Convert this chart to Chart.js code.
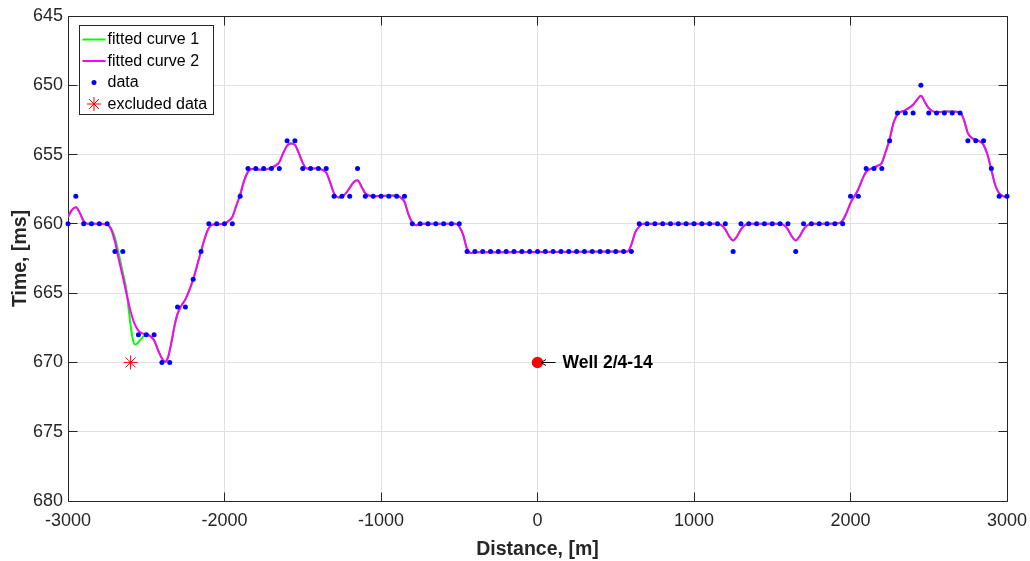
<!DOCTYPE html>
<html>
<head>
<meta charset="utf-8">
<title>Time vs Distance</title>
<script src="https://cdn.jsdelivr.net/npm/chart.js@4.4.1/dist/chart.umd.min.js"></script>
<style>
  html, body { margin: 0; padding: 0; background: #ffffff; }
  canvas { display: block; }
</style>
</head>
<body>
<canvas id="chart" width="1030" height="561"></canvas>
<script>
// Picked horizon times along the line, one per 50 m station
const distances = [
  -3000, -2950, -2900, -2850, -2800, -2750, -2700, -2650, -2600, -2550,
  -2500, -2450, -2400, -2350, -2300, -2250, -2200, -2150, -2100, -2050,
  -2000, -1950, -1900, -1850, -1800, -1750, -1700, -1650, -1600, -1550,
  -1500, -1450, -1400, -1350, -1300, -1250, -1200, -1150, -1100, -1050,
  -1000,  -950,  -900,  -850,  -800,  -750,  -700,  -650,  -600,  -550,
   -500,  -450,  -400,  -350,  -300,  -250,  -200,  -150,  -100,   -50,
      0,    50,   100,   150,   200,   250,   300,   350,   400,   450,
    500,   550,   600,   650,   700,   750,   800,   850,   900,   950,
   1000,  1050,  1100,  1150,  1200,  1250,  1300,  1350,  1400,  1450,
   1500,  1550,  1600,  1650,  1700,  1750,  1800,  1850,  1900,  1950,
   2000,  2050,  2100,  2150,  2200,  2250,  2300,  2350,  2400,  2450,
   2500,  2550,  2600,  2650,  2700,  2750,  2800,  2850,  2900,  2950,
   3000
];
// null = station removed from the fit (see excluded arrays)
const times = [
  660, 658, 660, 660, 660, 660, 662, 662, null, 668,
  668, 668, 670, 670, 666, 666, 664, 662, 660, 660,
  660, 660, 658, 656, 656, 656, 656, 656, 654, 654,
  656, 656, 656, 656, 658, 658, 658, 656, 658, 658,
  658, 658, 658, 658, 660, 660, 660, 660, 660, 660,
  660, 662, 662, 662, 662, 662, 662, 662, 662, 662,
  662, 662, 662, 662, 662, 662, 662, 662, 662, 662,
  662, 662, 662, 660, 660, 660, 660, 660, 660, 660,
  660, 660, 660, 660, 660, 662, 660, 660, 660, 660,
  660, 660, 660, 662, 660, 660, 660, 660, 660, 660,
  658, 658, 656, 656, 656, 654, 652, 652, 652, 650,
  652, 652, 652, 652, 652, 654, 654, 654, 656, 658,
  658
];

const excludedDistances = [-2600];
const excludedTimes = [670];

// Fitted curve 2 as [distance, time] nodes
const fit2Points = [
  [-3000, 659.5], [-2975, 659.0], [-2950, 658.8], [-2925, 659.2], [-2900, 659.8],
  [-2875, 660.0], [-2800, 660.0], [-2750, 660.05], [-2725, 660.4], [-2700, 661.3],
  [-2675, 662.6], [-2650, 663.8], [-2625, 665.1], [-2600, 666.3], [-2575, 667.2],
  [-2550, 667.7], [-2525, 667.9], [-2500, 667.95], [-2475, 668.1], [-2450, 668.4],
  [-2425, 669.1], [-2400, 669.7], [-2380, 669.95], [-2360, 669.6], [-2340, 668.6],
  [-2320, 667.4], [-2300, 666.5], [-2275, 665.9], [-2250, 665.45], [-2225, 664.8],
  [-2200, 664.0], [-2175, 663.0], [-2150, 662.0], [-2125, 661.0], [-2100, 660.3],
  [-2075, 660.05], [-2000, 660.0], [-1975, 659.8], [-1950, 659.5], [-1925, 658.7],
  [-1900, 657.9], [-1875, 656.9], [-1850, 656.25], [-1825, 656.05], [-1750, 656.1],
  [-1700, 655.95], [-1675, 655.8], [-1650, 655.55], [-1625, 654.9], [-1600, 654.35],
  [-1575, 654.2], [-1550, 654.3], [-1525, 654.9], [-1500, 655.6], [-1475, 656.0],
  [-1400, 656.0], [-1375, 656.1], [-1350, 656.3], [-1325, 657.0], [-1300, 657.8],
  [-1265, 658.1], [-1225, 657.8], [-1200, 657.4], [-1175, 657.0], [-1150, 656.85],
  [-1125, 657.3], [-1100, 657.8], [-1050, 658.0], [-900, 657.95], [-875, 658.1],
  [-850, 658.4], [-825, 659.3], [-800, 659.9], [-775, 660.1], [-750, 660.0],
  [-525, 660.0], [-500, 660.2], [-475, 660.8], [-450, 661.8], [-425, 662.1],
  [-400, 662.05], [575, 662.0], [600, 661.5], [625, 660.6], [650, 660.2],
  [675, 660.0], [1150, 660.0], [1175, 660.1], [1200, 660.4], [1225, 660.9],
  [1250, 661.2], [1275, 660.9], [1300, 660.4], [1325, 660.1], [1350, 660.0],
  [1550, 660.0], [1575, 660.1], [1600, 660.4], [1625, 660.9], [1650, 661.2],
  [1675, 660.9], [1700, 660.4], [1725, 660.1], [1750, 660.0], [1925, 659.95],
  [1950, 659.75], [1975, 659.2], [2000, 658.5], [2025, 658.0], [2050, 657.5],
  [2075, 656.8], [2100, 656.25], [2125, 656.05], [2150, 655.95], [2175, 655.8],
  [2200, 655.6], [2225, 654.8], [2250, 653.9], [2275, 652.7], [2300, 652.1],
  [2350, 651.8], [2400, 651.4], [2425, 651.05], [2450, 650.75], [2475, 651.2],
  [2500, 651.65], [2550, 651.95], [2600, 651.9], [2650, 651.9], [2700, 651.95],
  [2725, 652.5], [2750, 653.45], [2775, 653.8], [2800, 653.9], [2825, 654.05],
  [2850, 654.3], [2875, 655.0], [2900, 656.1], [2925, 657.2], [2950, 657.8],
  [2975, 658.0], [3000, 658.1]
];

// Fitted curve 1 differs from curve 2 only where the excluded pick sits
const fit1Segment = [
  [-2750, 660.05], [-2725, 660.3], [-2700, 661.0], [-2675, 662.2], [-2650, 663.5],
  [-2625, 664.9], [-2612, 666.2], [-2600, 667.3], [-2590, 668.1], [-2575, 668.7],
  [-2560, 668.65], [-2540, 668.4], [-2520, 668.15], [-2500, 668.0], [-2475, 668.1],
  [-2450, 668.4]
];

const wellDistance = [0];
const wellTime = [670];
const wellName = 'Well 2/4-14';

const xTickValues = [-3000, -2000, -1000, 0, 1000, 2000, 3000];
const yTickValues = [645, 650, 655, 660, 665, 670, 675, 680];

const toXY = p => ({ x: p[0], y: p[1] });
const segStart = fit1Segment[0][0];
const segEnd = fit1Segment[fit1Segment.length - 1][0];
const fit1Points = fit2Points.filter(p => p[0] < segStart)
  .concat(fit1Segment)
  .concat(fit2Points.filter(p => p[0] > segEnd));

const pickData = distances
  .map((d, i) => ({ x: d, y: times[i] }))
  .filter(p => p.y !== null);

const FONT = "'Liberation Sans', Arial, Helvetica, sans-serif";
const AXIS_COLOR = '#262626';

// Axes box with inward tick marks on all four sides
const axesFrame = {
  id: 'axesFrame',
  beforeDatasetsDraw(chart) {
    const { ctx, chartArea: a, scales } = chart;
    const al = v => Math.round(v - 0.5) + 0.5;
    const L = al(a.left), R = al(a.right), T = al(a.top), B = al(a.bottom);
    const tl = 9;
    ctx.save();
    ctx.strokeStyle = AXIS_COLOR;
    ctx.lineWidth = 1;
    ctx.beginPath();
    ctx.rect(L, T, R - L, B - T);
    xTickValues.forEach(v => {
      const px = al(scales.x.getPixelForValue(v));
      ctx.moveTo(px, B); ctx.lineTo(px, B - tl);
      ctx.moveTo(px, T); ctx.lineTo(px, T + tl);
    });
    yTickValues.forEach(v => {
      const py = al(scales.y.getPixelForValue(v));
      ctx.moveTo(L, py); ctx.lineTo(L + tl, py);
      ctx.moveTo(R, py); ctx.lineTo(R - tl, py);
    });
    ctx.stroke();
    ctx.restore();
  }
};

function drawAsterisk(ctx, x, y, r) {
  ctx.beginPath();
  for (let k = 0; k < 4; k++) {
    const ang = k * Math.PI / 4;
    const dx = Math.cos(ang) * r, dy = Math.sin(ang) * r;
    ctx.moveTo(x - dx, y - dy);
    ctx.lineTo(x + dx, y + dy);
  }
  ctx.stroke();
}

// Legend box in the upper-left corner of the axes
const insideLegend = {
  id: 'insideLegend',
  afterDraw(chart) {
    const { ctx, chartArea: a } = chart;
    const entries = chart.data.datasets
      .filter(d => d.legendKind)
      .sort((p, q) => p.legendRank - q.legendRank);
    const bx = Math.round(a.left + 11) + 0.5;
    const by = Math.round(a.top + 9) + 0.5;
    const bw = 134, bh = 89;
    ctx.save();
    ctx.fillStyle = '#ffffff';
    ctx.fillRect(bx, by, bw, bh);
    ctx.strokeStyle = AXIS_COLOR;
    ctx.lineWidth = 1;
    ctx.strokeRect(bx, by, bw, bh);
    ctx.font = '16px ' + FONT;
    ctx.textBaseline = 'middle';
    ctx.textAlign = 'left';
    entries.forEach((d, i) => {
      const cy = by + 14 + i * 21.5;
      const sx0 = bx + 3, sx1 = bx + 26, cx = bx + 14.5;
      if (d.legendKind === 'line') {
        ctx.strokeStyle = d.borderColor;
        ctx.lineWidth = d.borderWidth;
        ctx.beginPath();
        ctx.moveTo(sx0, cy); ctx.lineTo(sx1, cy);
        ctx.stroke();
      } else if (d.legendKind === 'dot') {
        ctx.fillStyle = d.backgroundColor;
        ctx.beginPath();
        ctx.arc(cx, cy, d.pointRadius, 0, Math.PI * 2);
        ctx.fill();
      } else if (d.legendKind === 'star') {
        ctx.strokeStyle = d.borderColor;
        ctx.lineWidth = 1;
        drawAsterisk(ctx, cx, cy, d.pointRadius);
      }
      ctx.fillStyle = '#000000';
      ctx.fillText(d.label, bx + 28, cy + 0.5);
    });
    ctx.restore();
  }
};

// Arrow and name next to the well marker
const wellLabel = {
  id: 'wellLabel',
  afterDatasetsDraw(chart) {
    const { ctx, scales } = chart;
    ctx.save();
    wellDistance.forEach((d, i) => {
      const px = scales.x.getPixelForValue(d);
      const py = Math.round(scales.y.getPixelForValue(wellTime[i])) + 0.5;
      const tip = px + 3.5;
      ctx.strokeStyle = '#000000';
      ctx.lineWidth = 1;
      ctx.beginPath();
      ctx.moveTo(px + 18, py); ctx.lineTo(tip, py);
      ctx.moveTo(tip + 5, py - 3); ctx.lineTo(tip, py); ctx.lineTo(tip + 5, py + 3);
      ctx.stroke();
      ctx.fillStyle = '#000000';
      ctx.font = 'bold 17.5px ' + FONT;
      ctx.textAlign = 'left';
      ctx.textBaseline = 'middle';
      ctx.fillText(wellName, px + 25, py + 0.5);
    });
    ctx.restore();
  }
};

new Chart(document.getElementById('chart'), {
  type: 'scatter',
  data: {
    datasets: [
      {
        label: 'excluded data',
        legendKind: 'star',
        legendRank: 4,
        data: excludedDistances.map((d, i) => ({ x: d, y: excludedTimes[i] })),
        pointStyle: 'star',
        pointRadius: 7,
        borderColor: '#ff0000',
        backgroundColor: '#ff0000',
        borderWidth: 1,
        showLine: false,
        order: 0,
        clip: false
      },
      {
        label: 'data',
        legendKind: 'dot',
        legendRank: 3,
        data: pickData,
        pointStyle: 'circle',
        pointRadius: 2.5,
        borderWidth: 0,
        backgroundColor: '#0000ff',
        borderColor: '#0000ff',
        showLine: false,
        order: 1,
        clip: false
      },
      {
        label: 'well',
        data: wellDistance.map((d, i) => ({ x: d, y: wellTime[i] })),
        pointStyle: 'circle',
        pointRadius: 5.7,
        borderWidth: 0,
        backgroundColor: '#ff0000',
        showLine: false,
        order: 2
      },
      {
        label: 'fitted curve 2',
        legendKind: 'line',
        legendRank: 2,
        data: fit2Points.map(toXY),
        showLine: true,
        borderColor: '#ff00ff',
        borderWidth: 2,
        pointRadius: 0,
        cubicInterpolationMode: 'monotone',
        order: 3
      },
      {
        label: 'fitted curve 1',
        legendKind: 'line',
        legendRank: 1,
        data: fit1Points.map(toXY),
        showLine: true,
        borderColor: '#00ff00',
        borderWidth: 2,
        pointRadius: 0,
        cubicInterpolationMode: 'monotone',
        order: 4
      }
    ]
  },
  options: {
    responsive: false,
    animation: false,
    devicePixelRatio: 1,
    layout: { padding: { top: 16, right: 23, bottom: 0, left: 0 } },
    plugins: {
      legend: { display: false },
      tooltip: { enabled: false }
    },
    scales: {
      x: {
        type: 'linear',
        min: -3000,
        max: 3000,
        afterFit: s => { s.height = 60; s.paddingLeft = 0; s.paddingRight = 0; },
        afterBuildTicks: s => { s.ticks = xTickValues.map(v => ({ value: v })); },
        ticks: {
          padding: 9,
          color: AXIS_COLOR,
          font: { family: FONT, size: 18 },
          maxRotation: 0,
          callback: v => String(v)
        },
        grid: { color: '#e0e0e0', lineWidth: 1, drawTicks: false },
        border: { display: false },
        title: {
          display: true,
          text: 'Distance, [m]',
          color: AXIS_COLOR,
          font: { family: FONT, size: 19.5, weight: 'bold' },
          padding: { top: 0, bottom: 0 }
        }
      },
      y: {
        type: 'linear',
        reverse: true,
        min: 645,
        max: 680,
        afterFit: s => { s.width = 68; s.paddingTop = 0; s.paddingBottom = 0; },
        afterBuildTicks: s => { s.ticks = yTickValues.map(v => ({ value: v })); },
        ticks: {
          padding: 5,
          color: AXIS_COLOR,
          font: { family: FONT, size: 18 },
          callback: v => String(v)
        },
        grid: { color: '#e0e0e0', lineWidth: 1, drawTicks: false },
        border: { display: false },
        title: {
          display: true,
          text: 'Time, [ms]',
          color: AXIS_COLOR,
          font: { family: FONT, size: 19.5, weight: 'bold' },
          padding: { top: 9, bottom: 0 }
        }
      }
    }
  },
  plugins: [axesFrame, wellLabel, insideLegend]
});
</script>
</body>
</html>
